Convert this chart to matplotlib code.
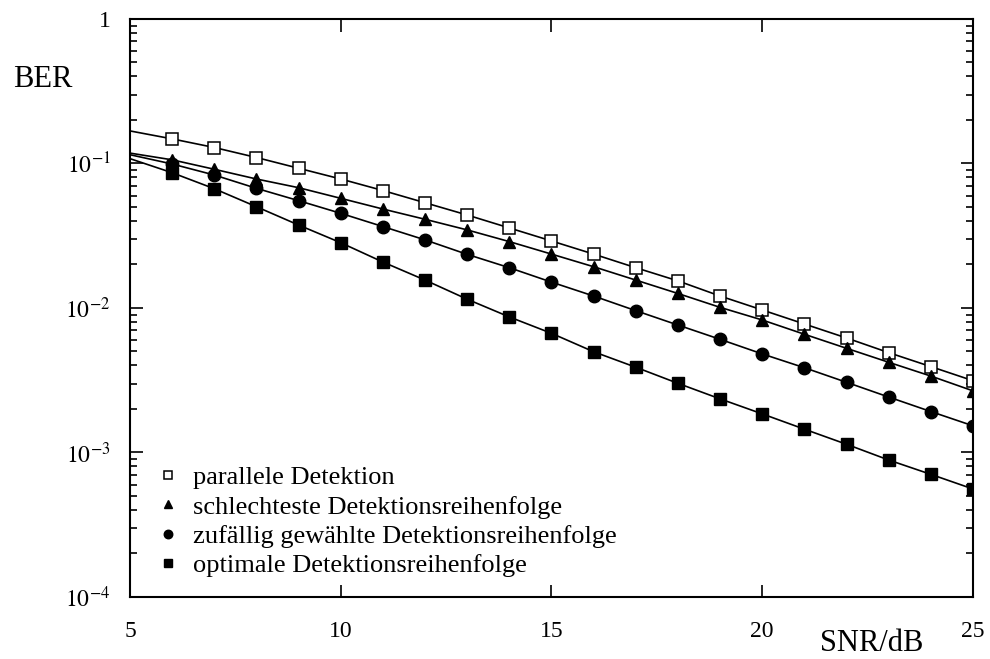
import matplotlib
matplotlib.use("Agg")
import matplotlib.pyplot as plt
from matplotlib.ticker import LogLocator, FuncFormatter, NullFormatter, FixedLocator
import numpy as np

plt.rcParams['font.family'] = ['Liberation Serif', 'DejaVu Serif']
plt.rcParams['mathtext.fontset'] = 'stix'

snr = [5, 6, 7, 8, 9, 10, 11, 12, 13, 14, 15, 16, 17, 18, 19, 20, 21, 22, 23, 24, 25]

ber_parallel = [0.168, 0.148, 0.129, 0.110, 0.0927, 0.0781, 0.0650, 0.0535, 0.0440, 0.0358,
                0.0291, 0.0236, 0.0190, 0.0154, 0.0121, 0.00969, 0.00775, 0.00620, 0.00491,
                0.00393, 0.00314]
ber_worst = [0.118, 0.106, 0.0912, 0.0781, 0.0680, 0.0574, 0.0484, 0.0411, 0.0347, 0.0288,
             0.0236, 0.0193, 0.0156, 0.0126, 0.0101, 0.00826, 0.00658, 0.00526, 0.00421,
             0.00338, 0.00267]
ber_random = [0.115, 0.0992, 0.0832, 0.0673, 0.0553, 0.0452, 0.0366, 0.0296, 0.0235, 0.0190,
              0.0151, 0.0121, 0.00958, 0.00762, 0.00607, 0.00481, 0.00386, 0.00306, 0.00242,
              0.00192, 0.00153]
ber_optimal = [0.108, 0.0863, 0.0669, 0.0502, 0.0375, 0.0283, 0.0208, 0.0156, 0.0115, 0.00867,
               0.00668, 0.00498, 0.00389, 0.00301, 0.00235, 0.00185, 0.00145, 0.00114,
               0.000887, 0.000706, 0.000559]

labels = ["parallele Detektion",
          "schlechteste Detektionsreihenfolge",
          "zufällig gewählte Detektionsreihenfolge",
          "optimale Detektionsreihenfolge"]

x_ticks = [5, 10, 15, 20, 25]
y_ticks = [1e-4, 1e-3, 1e-2, 1e-1, 1]

fig = plt.figure(figsize=(9.9, 6.59), dpi=100)
ax = fig.add_axes([0.1313, 0.0941, 0.8515, 0.8771])

series = [
    (ber_parallel, dict(marker='s', mfc='white', mec='black', ms=8.5, mew=1.1)),
    (ber_worst, dict(marker='^', mfc='black', mec='black', ms=9)),
    (ber_random, dict(marker='o', mfc='black', mec='black', ms=9)),
    (ber_optimal, dict(marker='s', mfc='black', mec='black', ms=8.5)),
]
for (vals, st), lab in zip(series, labels):
    ax.plot(snr, vals, color='black', lw=1.2, markevery=slice(1, None), **st)

handles = []
for (vals, st), lab in zip(series, labels):
    h, = ax.plot([], [], linestyle='none', **st)
    h.set_label(lab)
    handles.append(h)

ax.set_yscale('log')
ax.set_xlim(5, 25)
ax.set_ylim(1e-4, 1)
ax.xaxis.set_major_locator(FixedLocator(x_ticks))
ax.yaxis.set_major_locator(FixedLocator(y_ticks))
ax.yaxis.set_minor_locator(LogLocator(base=10, subs=np.arange(2, 10)))
ax.yaxis.set_minor_formatter(NullFormatter())

def yfmt(v, pos):
    if abs(v - 1) < 1e-9:
        return '1'
    return r'$10^{%d}$' % int(round(np.log10(v)))
ax.yaxis.set_major_formatter(FuncFormatter(yfmt))

ax.tick_params(axis='both', which='both', direction='in', top=True, right=True,
               labelsize=17, width=1.2)
ax.tick_params(axis='both', which='major', length=9)
ax.tick_params(axis='y', which='minor', length=5)
ax.tick_params(axis='x', which='major', pad=17)
ax.tick_params(axis='y', which='major', pad=14)
for s in ax.spines.values():
    s.set_linewidth(1.5)

fig.text(13 / 990, 1 - 87 / 659, 'BER', fontsize=22, ha='left', va='baseline')
fig.text(872 / 990, 1 - 651 / 659, 'SNR/dB', fontsize=22, ha='center', va='baseline')

leg = ax.legend(handles=handles, loc='upper left', bbox_to_anchor=(0.032, 0.227),
                frameon=False, fontsize=19, handlelength=0.8, handletextpad=0.55,
                labelspacing=0.22, markerscale=0.68, borderpad=0, borderaxespad=0)

fig.savefig('out.png', dpi=100)
